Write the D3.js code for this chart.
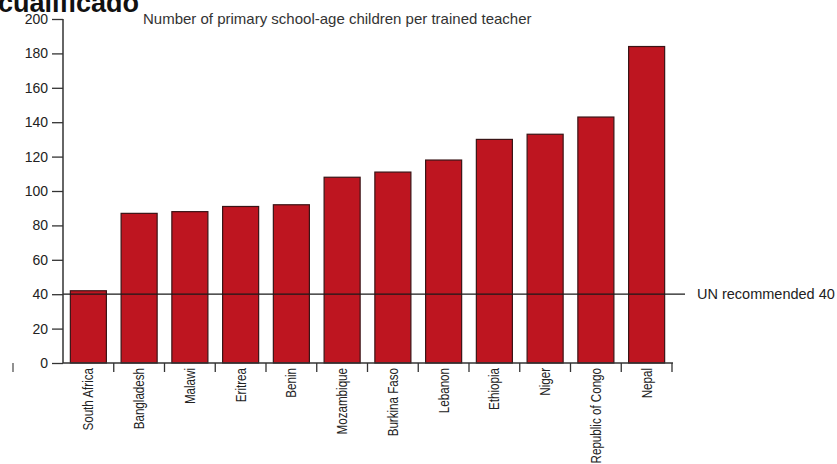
<!DOCTYPE html>
<html>
<head>
<meta charset="utf-8">
<script src="https://cdn.jsdelivr.net/npm/d3@7"></script>
<style>
  html, body { margin: 0; padding: 0; background: #fff; }
  svg { display: block; }
  text { font-family: "Liberation Sans", Arial, sans-serif; fill: #222; }
</style>
</head>
<body>
<svg id="chart" width="837" height="464"></svg>
<script>
const categories = ["South Africa", "Bangladesh", "Malawi", "Eritrea", "Benin", "Mozambique",
  "Burkina Faso", "Lebanon", "Ethiopia", "Niger", "Republic of Congo", "Nepal"];
const values = [42, 87, 88, 91, 92, 108, 111, 118, 130, 133, 143, 184];
const yTicks = [0, 20, 40, 60, 80, 100, 120, 140, 160, 180, 200];
const unRecommended = 40;
const titleText = "Number of primary school-age children per trained teacher";
const headerText = "cualificado";
const unLabel = "UN recommended 40";

const svg = d3.select("#chart");
const mLeft = 63, mRight = 672, mTop = 19, mBottom = 363;

const x = d3.scaleBand().domain(categories).range([mLeft, mRight])
  .paddingInner(0.29).paddingOuter(0.145);
const y = d3.scaleLinear().domain([0, 200]).range([mBottom, mTop]);

// clipped header text
svg.append("text").attr("x", -2).attr("y", 12)
  .style("font-size", "27px").style("font-weight", "bold").style("fill", "#111")
  .text(headerText);

// title
svg.append("text").attr("x", 143).attr("y", 24)
  .style("font-size", "15px").style("fill", "#333")
  .text(titleText);

// bars
svg.append("g").selectAll("rect").data(categories).join("rect")
  .attr("x", d => x(d))
  .attr("y", (d, i) => y(values[i]))
  .attr("width", x.bandwidth())
  .attr("height", (d, i) => y(0) - y(values[i]))
  .attr("fill", "#be1520")
  .attr("stroke", "#3a1416")
  .attr("stroke-width", 1.2);

// UN line
svg.append("line")
  .attr("x1", mLeft).attr("x2", 685)
  .attr("y1", y(unRecommended)).attr("y2", y(unRecommended))
  .attr("stroke", "#1a1a1a").attr("stroke-width", 1.3);
svg.append("text").attr("x", 697).attr("y", y(unRecommended) + 5)
  .style("font-size", "14.5px").style("fill", "#222")
  .text(unLabel);

// y axis
const yAxis = d3.axisLeft(y).tickValues(yTicks).tickSize(11).tickPadding(4);
const gy = svg.append("g").attr("transform", `translate(${mLeft},0)`).call(yAxis);
gy.select(".domain").attr("stroke", "#333").attr("stroke-width", 1.5).attr("d", `M0,${mTop}V${mBottom}`);
gy.selectAll(".tick line").attr("stroke", "#333").attr("stroke-width", 1.3);
gy.selectAll(".tick text").style("font-size", "14px").style("font-family", '"Liberation Sans", Arial, sans-serif').attr("fill", "#333");

// x axis baseline
svg.append("line").attr("x1", mLeft).attr("x2", mRight + 1)
  .attr("y1", mBottom).attr("y2", mBottom)
  .attr("stroke", "#333").attr("stroke-width", 1.5);

// boundary ticks
const step = x.step();
const boundaries = d3.range(categories.length + 1).map(i => mLeft + i * step);
svg.append("g").selectAll("line").data(boundaries.slice(1)).join("line")
  .attr("x1", d => d).attr("x2", d => d)
  .attr("y1", mBottom).attr("y2", mBottom + 9)
  .attr("stroke", "#333").attr("stroke-width", 1.3);

// category labels (condensed)
svg.append("g").attr("class", "cat").selectAll("text").data(categories).join("text")
  .attr("transform", d => `translate(${x(d) + x.bandwidth() / 2},${mBottom + 5}) rotate(-90) scale(0.8,1)`)
  .attr("text-anchor", "end")
  .attr("dy", "0.35em")
  .style("font-size", "14.5px")
  .style("fill", "#222")
  .text(d => d);

// stray mark at left
svg.append("line").attr("x1", 13).attr("x2", 13).attr("y1", 363).attr("y2", 372)
  .attr("stroke", "#555").attr("stroke-width", 1.3);
</script>
</body>
</html>
